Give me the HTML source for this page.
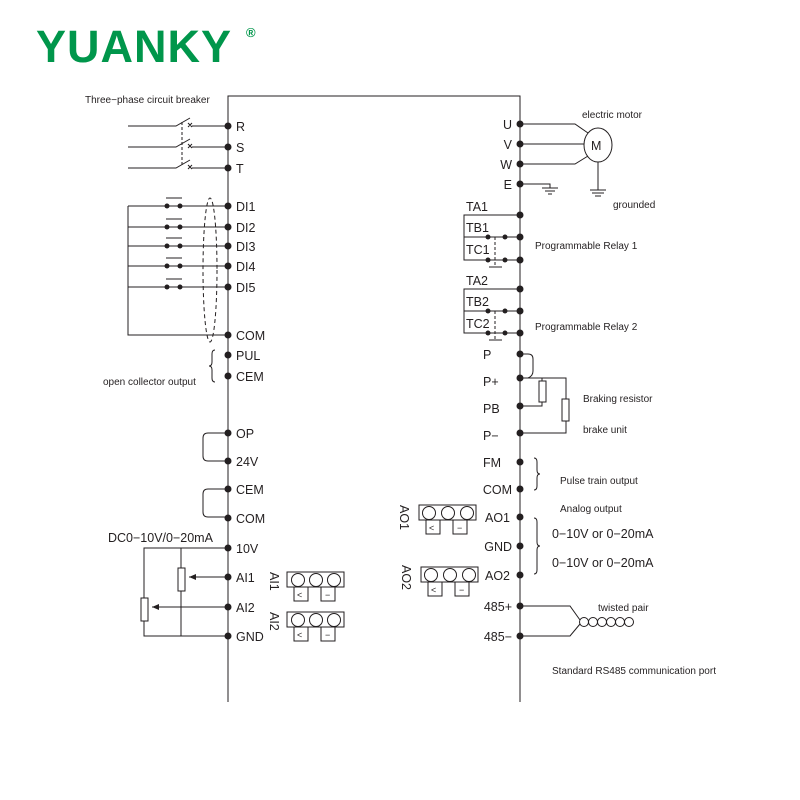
<!DOCTYPE html>
<html><head><style>
body{margin:0;background:#fff}
svg{display:block}
text{font-family:"Liberation Sans",sans-serif;fill:#231f20}
.l{font-size:12.5px}
.s{font-size:10px}
</style></head><body>
<svg width="800" height="800" viewBox="0 0 800 800" xmlns="http://www.w3.org/2000/svg">
<g fill="none" stroke="#231f20" stroke-width="1">
<path d="M228 702 V96 H520 V702"/>
<path d="M128 126 H176 L190 118 M192 126 H228 M128 147 H176 L190 139 M192 147 H228 M128 168 H176 L190 160 M192 168 H228"/>
<path d="M182 122 V166" stroke-dasharray="3,2"/>
<path d="M188 123 l4 4 M192 123 l-4 4 M188 144 l4 4 M192 144 l-4 4 M188 165 l4 4 M192 165 l-4 4"/>
<path d="M128 206 V335 H228 M128 206 H228 M128 227 H228 M128 246 H228 M128 266 H228 M128 287 H228"/>
<path d="M166 198 H182 M166 219 H182 M166 238 H182 M166 258 H182 M166 279 H182"/>
<ellipse cx="210" cy="270" rx="7" ry="72" stroke-dasharray="4,3"/>
<path d="M215 350 q-3 0 -3 4 v8 q0 4 -3 4 q3 0 3 4 v8 q0 4 3 4"/>
<path d="M534 458 q3 0 3 4 v8 q0 4 3 4 q-3 0 -3 4 v8 q0 4 -3 4"/>
<path d="M534 518 q3 0 3 4 v20 q0 4 3 4 q-3 0 -3 4 v20 q0 4 -3 4"/>
<path d="M228 433 H208 q-5 0 -5 5 v18 q0 5 5 5 H228 M228 489 H208 q-5 0 -5 5 v18 q0 5 5 5 H228"/>
<path d="M228 548 H144 V636 H228 M181 548 V636 M189 577 H228 M152 607 H228"/>
<rect x="178" y="568" width="7" height="23" fill="#fff"/>
<rect x="141" y="598" width="7" height="23" fill="#fff"/>
<rect x="287" y="572" width="57" height="15"/><rect x="294" y="587" width="14" height="14"/><rect x="321" y="587" width="14" height="14"/>
<circle cx="298" cy="580" r="6.5"/><circle cx="316" cy="580" r="6.5"/><circle cx="334" cy="580" r="6.5"/>
<rect x="287" y="612" width="57" height="15"/><rect x="294" y="627" width="14" height="14"/><rect x="321" y="627" width="14" height="14"/>
<circle cx="298" cy="620" r="6.5"/><circle cx="316" cy="620" r="6.5"/><circle cx="334" cy="620" r="6.5"/>
<rect x="419" y="505" width="57" height="15"/><rect x="426" y="520" width="14" height="14"/><rect x="453" y="520" width="14" height="14"/>
<circle cx="429" cy="513" r="6.5"/><circle cx="448" cy="513" r="6.5"/><circle cx="467" cy="513" r="6.5"/>
<rect x="421" y="567" width="57" height="15"/><rect x="428" y="582" width="14" height="14"/><rect x="455" y="582" width="14" height="14"/>
<circle cx="431" cy="575" r="6.5"/><circle cx="450" cy="575" r="6.5"/><circle cx="469" cy="575" r="6.5"/>
<path d="M520 124 H575 L588 133 M520 144 H584 M520 164 H575 L588 156"/>
<ellipse cx="598" cy="145" rx="14" ry="17"/>
<path d="M598 162 V190 M590 190 H606 M592 193 H604 M595 196 H601"/>
<path d="M520 184 H550 V188 M542 188 H558 M545 191 H555 M548 194 H552"/>
<path d="M520 215 H464 V260 H520 M464 237 H520"/>
<path d="M495 237 V267" stroke-dasharray="3,2"/><path d="M489 267 H502"/>
<path d="M520 289 H464 V333 H520 M464 311 H520"/>
<path d="M495 311 V340" stroke-dasharray="3,2"/><path d="M489 340 H502"/>
<path d="M520 354 H528 q5 0 5 5 v12 q0 5 -5 7 H520"/>
<path d="M520 378 H566 V433 H520 M542 378 V406 H520"/>
<rect x="539" y="381" width="7" height="21" fill="#fff"/>
<rect x="562" y="399" width="7" height="22" fill="#fff"/>
<path d="M520 606 H570 L580 620 M520 636 H570 L580 624"/>
<circle cx="584" cy="622" r="4.5"/><circle cx="593" cy="622" r="4.5"/><circle cx="602" cy="622" r="4.5"/><circle cx="611" cy="622" r="4.5"/><circle cx="620" cy="622" r="4.5"/><circle cx="629" cy="622" r="4.5"/>
</g>
<g fill="#231f20">
<circle cx="228" cy="126" r="3.5"/><circle cx="228" cy="147" r="3.5"/><circle cx="228" cy="168" r="3.5"/>
<circle cx="228" cy="206" r="3.5"/><circle cx="228" cy="227" r="3.5"/><circle cx="228" cy="246" r="3.5"/><circle cx="228" cy="266" r="3.5"/><circle cx="228" cy="287" r="3.5"/>
<circle cx="228" cy="335" r="3.5"/><circle cx="228" cy="355" r="3.5"/><circle cx="228" cy="376" r="3.5"/>
<circle cx="228" cy="433" r="3.5"/><circle cx="228" cy="461" r="3.5"/><circle cx="228" cy="489" r="3.5"/><circle cx="228" cy="518" r="3.5"/>
<circle cx="228" cy="548" r="3.5"/><circle cx="228" cy="577" r="3.5"/><circle cx="228" cy="607" r="3.5"/><circle cx="228" cy="636" r="3.5"/>
<circle cx="167" cy="206" r="2.5"/><circle cx="180" cy="206" r="2.5"/><circle cx="167" cy="227" r="2.5"/><circle cx="180" cy="227" r="2.5"/>
<circle cx="167" cy="246" r="2.5"/><circle cx="180" cy="246" r="2.5"/><circle cx="167" cy="266" r="2.5"/><circle cx="180" cy="266" r="2.5"/>
<circle cx="167" cy="287" r="2.5"/><circle cx="180" cy="287" r="2.5"/>
<circle cx="520" cy="124" r="3.5"/><circle cx="520" cy="144" r="3.5"/><circle cx="520" cy="164" r="3.5"/><circle cx="520" cy="184" r="3.5"/>
<circle cx="520" cy="215" r="3.5"/><circle cx="520" cy="237" r="3.5"/><circle cx="520" cy="260" r="3.5"/>
<circle cx="520" cy="289" r="3.5"/><circle cx="520" cy="311" r="3.5"/><circle cx="520" cy="333" r="3.5"/>
<circle cx="520" cy="354" r="3.5"/><circle cx="520" cy="378" r="3.5"/><circle cx="520" cy="406" r="3.5"/><circle cx="520" cy="433" r="3.5"/>
<circle cx="520" cy="462" r="3.5"/><circle cx="520" cy="489" r="3.5"/><circle cx="520" cy="517" r="3.5"/><circle cx="520" cy="546" r="3.5"/><circle cx="520" cy="575" r="3.5"/>
<circle cx="520" cy="606" r="3.5"/><circle cx="520" cy="636" r="3.5"/>
<circle cx="488" cy="237" r="2.5"/><circle cx="505" cy="237" r="2.5"/><circle cx="488" cy="260" r="2.5"/><circle cx="505" cy="260" r="2.5"/>
<circle cx="488" cy="311" r="2.5"/><circle cx="505" cy="311" r="2.5"/><circle cx="488" cy="333" r="2.5"/><circle cx="505" cy="333" r="2.5"/>
<path d="M189 577 l7 -3 v6 z M152 607 l7 -3 v6 z"/>
</g>
<text x="36" y="62" style="font-size:45px;font-weight:bold;fill:#00964b;letter-spacing:1px">YUANKY</text>
<text x="246" y="37" style="font-size:13px;font-weight:bold;fill:#00964b">®</text>
<g class="s">
<text x="85" y="103">Three−phase circuit breaker</text>
<text x="582" y="118">electric motor</text>
<text x="613" y="208">grounded</text>
<text x="535" y="249">Programmable Relay 1</text>
<text x="535" y="330">Programmable Relay 2</text>
<text x="103" y="385">open collector output</text>
<text x="583" y="402">Braking resistor</text>
<text x="583" y="433">brake unit</text>
<text x="560" y="484">Pulse train output</text>
<text x="560" y="512">Analog output</text>
<text x="598" y="611">twisted pair</text>
<text x="552" y="674">Standard RS485 communication port</text>
</g>
<g class="l">
<text x="591" y="150">M</text>
<text x="236" y="131">R</text><text x="236" y="152">S</text><text x="236" y="173">T</text>
<text x="236" y="211">DI1</text><text x="236" y="232">DI2</text><text x="236" y="251">DI3</text><text x="236" y="271">DI4</text><text x="236" y="292">DI5</text>
<text x="236" y="340">COM</text><text x="236" y="360">PUL</text><text x="236" y="381">CEM</text>
<text x="236" y="438">OP</text><text x="236" y="466">24V</text><text x="236" y="494">CEM</text><text x="236" y="523">COM</text>
<text x="236" y="553">10V</text><text x="236" y="582">AI1</text><text x="236" y="612">AI2</text><text x="236" y="641">GND</text>
<text x="108" y="542">DC0−10V/0−20mA</text>
<text x="483" y="359">P</text><text x="483" y="386">P+</text><text x="483" y="413">PB</text><text x="483" y="440">P−</text>
<text x="483" y="467">FM</text>
<g text-anchor="end">
<text x="512" y="129">U</text><text x="512" y="149">V</text><text x="512" y="169">W</text><text x="512" y="189">E</text>
<text x="512" y="494">COM</text><text x="510" y="522">AO1</text><text x="512" y="551">GND</text><text x="510" y="580">AO2</text>
<text x="512" y="611">485+</text><text x="512" y="641">485−</text>
</g>
<text x="466" y="211">TA1</text><text x="466" y="232">TB1</text><text x="466" y="254">TC1</text>
<text x="466" y="285">TA2</text><text x="466" y="306">TB2</text><text x="466" y="328">TC2</text>
<text x="552" y="538">0−10V or 0−20mA</text><text x="552" y="567">0−10V or 0−20mA</text>
<text transform="translate(270,572) rotate(90)">AI1</text>
<text transform="translate(270,612) rotate(90)">AI2</text>
<text transform="translate(400,505) rotate(90)">AO1</text>
<text transform="translate(402,565) rotate(90)">AO2</text>
</g>
<g style="font-size:9px">
<text x="297" y="598">&lt;</text><text x="325" y="598">−</text><text x="297" y="638">&lt;</text><text x="325" y="638">−</text>
<text x="429" y="531">&lt;</text><text x="457" y="531">−</text><text x="431" y="593">&lt;</text><text x="459" y="593">−</text>
</g>
</svg>
</body></html>
